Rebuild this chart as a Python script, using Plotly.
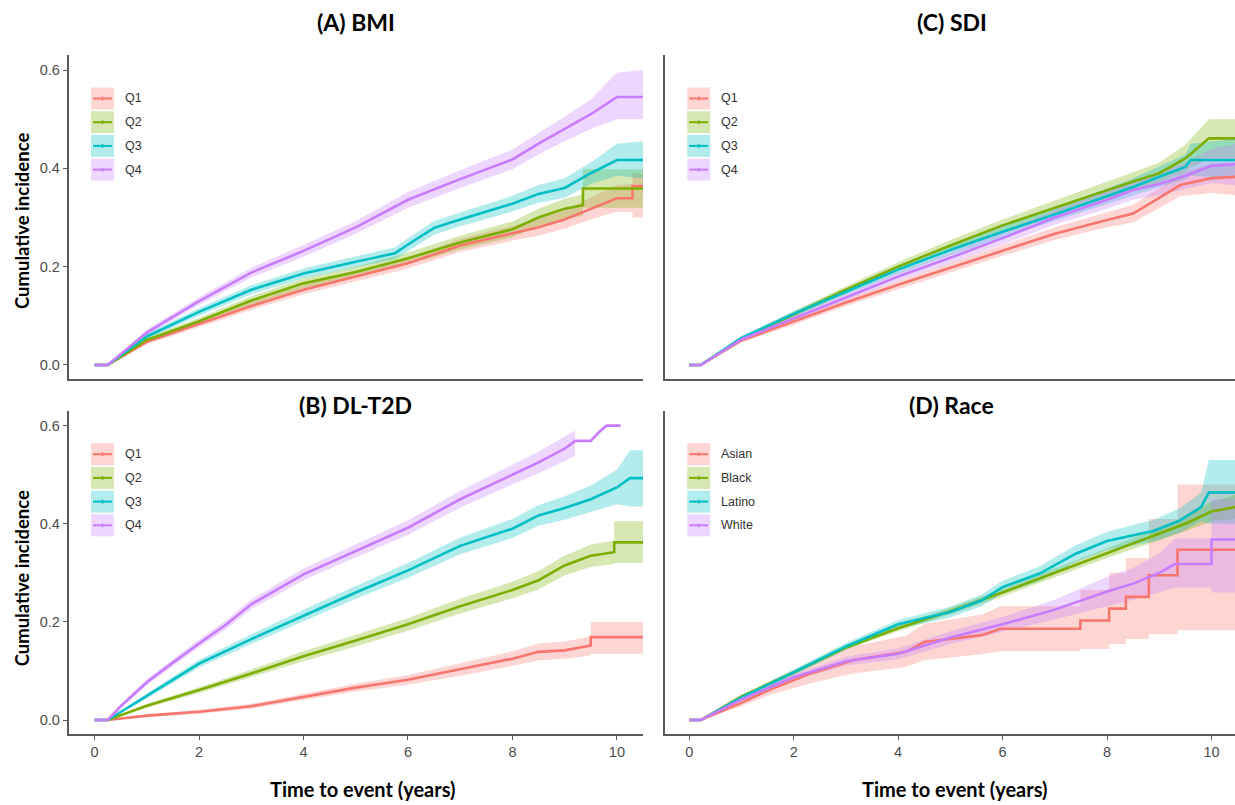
import plotly.graph_objects as go

# ---------------- data ----------------
QLABELS = ["Q1", "Q2", "Q3", "Q4"]
RACE_LABELS = ["Asian", "Black", "Latino", "White"]
COLORS = ["#F8766D", "#7CAE00", "#00BFC4", "#C77CFF"]
Y_TICKS = [0.0, 0.2, 0.4, 0.6]
Y_TICKTEXT = ["0.0", "0.2", "0.4", "0.6"]
X_TICKS = [0, 2, 4, 6, 8, 10]

# (A) BMI
A_Q1_t = [0, 0.25, 1, 2, 3, 4, 5, 6, 7, 8, 8.5, 9, 9.5, 10, 10.3, 10.3, 10.5]
A_Q1_est = [0, 0, 0.047, 0.084, 0.12, 0.153, 0.18, 0.207, 0.243, 0.268, 0.28, 0.296, 0.318, 0.339, 0.339, 0.364, 0.364]
A_Q1_lo = [0, 0, 0.042, 0.077, 0.112, 0.144, 0.17, 0.196, 0.23, 0.253, 0.263, 0.277, 0.296, 0.312, 0.31, 0.30, 0.30]
A_Q1_hi = [0, 0, 0.052, 0.091, 0.128, 0.162, 0.19, 0.218, 0.256, 0.283, 0.297, 0.315, 0.34, 0.366, 0.368, 0.39, 0.39]

A_Q2_t = [0, 0.25, 1, 2, 3, 4, 5, 6, 7, 8, 8.5, 9, 9.35, 9.35, 10.5]
A_Q2_est = [0, 0, 0.051, 0.089, 0.131, 0.166, 0.189, 0.217, 0.249, 0.276, 0.3, 0.318, 0.325, 0.359, 0.359]
A_Q2_lo = [0, 0, 0.046, 0.082, 0.122, 0.156, 0.178, 0.205, 0.235, 0.26, 0.282, 0.298, 0.303, 0.32, 0.32]
A_Q2_hi = [0, 0, 0.056, 0.096, 0.14, 0.176, 0.2, 0.229, 0.263, 0.292, 0.318, 0.338, 0.347, 0.398, 0.398]

A_Q3_t = [0, 0.25, 1, 2, 3, 4, 5, 5.75, 6, 6.5, 7, 8, 8.5, 9, 9.5, 10, 10.5]
A_Q3_est = [0, 0, 0.058, 0.108, 0.153, 0.186, 0.21, 0.227, 0.245, 0.279, 0.296, 0.328, 0.348, 0.36, 0.39, 0.417, 0.417]
A_Q3_lo = [0, 0, 0.053, 0.1, 0.144, 0.176, 0.199, 0.215, 0.232, 0.265, 0.282, 0.312, 0.33, 0.34, 0.368, 0.385, 0.38]
A_Q3_hi = [0, 0, 0.063, 0.116, 0.162, 0.196, 0.221, 0.239, 0.258, 0.293, 0.31, 0.344, 0.366, 0.38, 0.412, 0.45, 0.455]

A_Q4_t = [0, 0.25, 1, 2, 3, 4, 5, 6, 7, 8, 8.5, 9, 9.5, 10, 10.5]
A_Q4_est = [0, 0, 0.066, 0.13, 0.188, 0.232, 0.28, 0.336, 0.378, 0.418, 0.45, 0.48, 0.51, 0.545, 0.545]
A_Q4_lo = [0, 0, 0.06, 0.122, 0.178, 0.22, 0.267, 0.32, 0.36, 0.398, 0.428, 0.455, 0.48, 0.5, 0.5]
A_Q4_hi = [0, 0, 0.072, 0.138, 0.198, 0.244, 0.293, 0.352, 0.396, 0.438, 0.472, 0.505, 0.54, 0.595, 0.6]

# (B) DL-T2D
B_Q1_t = [0, 0.25, 1, 2, 3, 4, 5, 6, 7, 8, 8.5, 9, 9.4, 9.5, 9.5, 10.5]
B_Q1_est = [0, 0, 0.009, 0.017, 0.028, 0.047, 0.066, 0.082, 0.103, 0.125, 0.139, 0.142, 0.15, 0.152, 0.169, 0.169]
B_Q1_lo = [0, 0, 0.006, 0.013, 0.023, 0.041, 0.058, 0.072, 0.09, 0.11, 0.122, 0.125, 0.13, 0.132, 0.135, 0.135]
B_Q1_hi = [0, 0, 0.012, 0.021, 0.033, 0.053, 0.074, 0.092, 0.116, 0.14, 0.156, 0.16, 0.168, 0.17, 0.2, 0.2]

B_Q2_t = [0, 0.25, 1, 2, 3, 4, 5, 6, 7, 8, 8.5, 9, 9.5, 9.95, 9.95, 10.5]
B_Q2_est = [0, 0, 0.029, 0.061, 0.095, 0.13, 0.162, 0.195, 0.232, 0.265, 0.285, 0.315, 0.335, 0.342, 0.362, 0.362]
B_Q2_lo = [0, 0, 0.025, 0.055, 0.087, 0.12, 0.15, 0.182, 0.217, 0.248, 0.266, 0.295, 0.312, 0.318, 0.32, 0.32]
B_Q2_hi = [0, 0, 0.033, 0.067, 0.103, 0.14, 0.174, 0.208, 0.247, 0.282, 0.304, 0.335, 0.358, 0.366, 0.405, 0.405]

B_Q3_t = [0, 0.25, 1, 2, 3, 4, 5, 6, 7, 8, 8.5, 9, 9.5, 10, 10.25, 10.5]
B_Q3_est = [0, 0, 0.049, 0.115, 0.165, 0.213, 0.26, 0.305, 0.355, 0.39, 0.417, 0.432, 0.45, 0.474, 0.493, 0.493]
B_Q3_lo = [0, 0, 0.044, 0.107, 0.155, 0.201, 0.247, 0.29, 0.338, 0.371, 0.396, 0.408, 0.424, 0.44, 0.435, 0.435]
B_Q3_hi = [0, 0, 0.054, 0.123, 0.175, 0.225, 0.273, 0.32, 0.372, 0.41, 0.438, 0.456, 0.478, 0.51, 0.55, 0.55]

B_Q4_t = [0, 0.25, 0.5, 1, 1.5, 2, 2.5, 3, 4, 5, 6, 7, 8, 8.5, 9, 9.2, 9.5, 9.65, 9.8, 10.07]
B_Q4_est = [0, 0, 0.028, 0.077, 0.117, 0.156, 0.193, 0.236, 0.297, 0.345, 0.392, 0.45, 0.5, 0.525, 0.553, 0.569, 0.569, 0.586, 0.6, 0.6]
B_Q4_lo = [0, 0, 0.024, 0.071, 0.11, 0.148, 0.184, 0.226, 0.285, 0.332, 0.377, 0.433, 0.48, 0.503, 0.528, 0.538, None, None, None, None]
B_Q4_hi = [0, 0, 0.032, 0.083, 0.124, 0.164, 0.202, 0.246, 0.309, 0.358, 0.407, 0.467, 0.52, 0.547, 0.578, 0.59, None, None, None, None]

# (C) SDI
C_Q1_t = [0, 0.22, 1, 2, 3, 4, 5, 6, 7, 8, 8.5, 9, 9.4, 10, 10.5]
C_Q1_est = [0, 0, 0.05, 0.088, 0.127, 0.163, 0.198, 0.233, 0.267, 0.295, 0.308, 0.34, 0.366, 0.38, 0.383]
C_Q1_lo = [0, 0, 0.046, 0.082, 0.12, 0.155, 0.188, 0.222, 0.254, 0.28, 0.29, 0.32, 0.343, 0.35, 0.345]
C_Q1_hi = [0, 0, 0.054, 0.094, 0.134, 0.171, 0.208, 0.244, 0.28, 0.31, 0.326, 0.36, 0.39, 0.41, 0.41]

C_Q2_t = [0, 0.22, 1, 2, 3, 4, 5, 6, 7, 8, 8.5, 9, 9.5, 9.95, 10.5]
C_Q2_est = [0, 0, 0.053, 0.103, 0.153, 0.2, 0.243, 0.284, 0.32, 0.355, 0.373, 0.39, 0.42, 0.461, 0.461]
C_Q2_lo = [0, 0, 0.049, 0.097, 0.146, 0.191, 0.232, 0.272, 0.306, 0.338, 0.354, 0.37, 0.395, 0.42, 0.42]
C_Q2_hi = [0, 0, 0.057, 0.109, 0.16, 0.209, 0.254, 0.296, 0.334, 0.372, 0.392, 0.412, 0.448, 0.5, 0.5]

C_Q3_t = [0, 0.22, 1, 2, 3, 4, 5, 6, 7, 8, 8.5, 9, 9.5, 9.6, 10.5]
C_Q3_est = [0, 0, 0.055, 0.104, 0.149, 0.194, 0.234, 0.271, 0.306, 0.343, 0.362, 0.383, 0.403, 0.417, 0.417]
C_Q3_lo = [0, 0, 0.051, 0.098, 0.142, 0.185, 0.223, 0.259, 0.292, 0.327, 0.344, 0.362, 0.378, 0.385, 0.38]
C_Q3_hi = [0, 0, 0.059, 0.11, 0.156, 0.203, 0.245, 0.283, 0.32, 0.359, 0.38, 0.404, 0.428, 0.45, 0.46]

C_Q4_t = [0, 0.22, 1, 2, 3, 4, 5, 6, 7, 8, 8.5, 9, 9.5, 10, 10.5]
C_Q4_est = [0, 0, 0.052, 0.095, 0.138, 0.18, 0.218, 0.258, 0.3, 0.336, 0.356, 0.368, 0.385, 0.405, 0.409]
C_Q4_lo = [0, 0, 0.048, 0.089, 0.131, 0.171, 0.207, 0.245, 0.285, 0.318, 0.336, 0.345, 0.358, 0.37, 0.365]
C_Q4_hi = [0, 0, 0.056, 0.101, 0.145, 0.189, 0.229, 0.271, 0.315, 0.354, 0.376, 0.39, 0.412, 0.44, 0.45]

# (D) Race
D_AS_t = [0, 0.22, 1, 1.5, 2.33, 3.13, 4.15, 4.5, 5.6, 5.96, 7.49, 7.49, 8.04, 8.04, 8.36, 8.36, 8.8, 8.8, 9.35, 9.35, 10.5]
D_AS_est = [0, 0, 0.035, 0.06, 0.095, 0.122, 0.139, 0.159, 0.173, 0.186, 0.186, 0.203, 0.203, 0.227, 0.227, 0.251, 0.251, 0.295, 0.295, 0.347, 0.347]
D_AS_lo = [0, 0, 0.028, 0.05, 0.075, 0.095, 0.108, 0.122, 0.134, 0.14, 0.14, 0.145, 0.145, 0.155, 0.155, 0.165, 0.165, 0.175, 0.175, 0.183, 0.183]
D_AS_hi = [0, 0, 0.043, 0.076, 0.118, 0.15, 0.172, 0.196, 0.215, 0.232, 0.232, 0.265, 0.265, 0.3, 0.3, 0.33, 0.33, 0.41, 0.41, 0.48, 0.48]

D_BL_t = [0, 0.22, 1, 2, 3, 4, 5, 6, 7, 8, 9, 9.5, 10, 10.5]
D_BL_est = [0, 0, 0.048, 0.097, 0.148, 0.187, 0.222, 0.26, 0.3, 0.34, 0.38, 0.4, 0.425, 0.435]
D_BL_lo = [0, 0, 0.045, 0.093, 0.143, 0.181, 0.215, 0.252, 0.291, 0.33, 0.367, 0.385, 0.405, 0.41]
D_BL_hi = [0, 0, 0.051, 0.101, 0.153, 0.193, 0.229, 0.268, 0.309, 0.35, 0.393, 0.415, 0.445, 0.46]

D_LA_t = [0, 0.22, 1, 2, 3, 4, 5, 5.6, 6, 6.7, 7.4, 8, 8.9, 9.4, 9.8, 9.95, 10.5]
D_LA_est = [0, 0, 0.046, 0.097, 0.15, 0.195, 0.22, 0.244, 0.271, 0.298, 0.339, 0.365, 0.386, 0.407, 0.434, 0.464, 0.464]
D_LA_lo = [0, 0, 0.042, 0.091, 0.143, 0.186, 0.209, 0.232, 0.258, 0.283, 0.322, 0.346, 0.364, 0.382, 0.405, 0.4, 0.4]
D_LA_hi = [0, 0, 0.05, 0.103, 0.157, 0.204, 0.231, 0.256, 0.284, 0.313, 0.356, 0.384, 0.408, 0.432, 0.463, 0.53, 0.53]

D_WH_t = [0, 0.22, 1, 2, 3, 4, 5, 6, 7, 8, 8.5, 9, 9.3, 10.0, 10.0, 10.5]
D_WH_est = [0, 0, 0.042, 0.087, 0.12, 0.135, 0.168, 0.195, 0.225, 0.262, 0.278, 0.3, 0.318, 0.318, 0.368, 0.368]
D_WH_lo = [0, 0, 0.038, 0.081, 0.111, 0.124, 0.155, 0.18, 0.205, 0.232, 0.245, 0.26, 0.27, 0.27, 0.26, 0.26]
D_WH_hi = [0, 0, 0.046, 0.093, 0.129, 0.146, 0.181, 0.21, 0.245, 0.292, 0.31, 0.34, 0.37, 0.37, 0.45, 0.45]

PANELS = [
    ("x", "y", "(A) BMI", QLABELS,
     [(A_Q1_t, A_Q1_est, A_Q1_lo, A_Q1_hi), (A_Q2_t, A_Q2_est, A_Q2_lo, A_Q2_hi),
      (A_Q3_t, A_Q3_est, A_Q3_lo, A_Q3_hi), (A_Q4_t, A_Q4_est, A_Q4_lo, A_Q4_hi)]),
    ("x2", "y2", "(C) SDI", QLABELS,
     [(C_Q1_t, C_Q1_est, C_Q1_lo, C_Q1_hi), (C_Q2_t, C_Q2_est, C_Q2_lo, C_Q2_hi),
      (C_Q3_t, C_Q3_est, C_Q3_lo, C_Q3_hi), (C_Q4_t, C_Q4_est, C_Q4_lo, C_Q4_hi)]),
    ("x3", "y3", "(B) DL-T2D", QLABELS,
     [(B_Q1_t, B_Q1_est, B_Q1_lo, B_Q1_hi), (B_Q2_t, B_Q2_est, B_Q2_lo, B_Q2_hi),
      (B_Q3_t, B_Q3_est, B_Q3_lo, B_Q3_hi), (B_Q4_t, B_Q4_est, B_Q4_lo, B_Q4_hi)]),
    ("x4", "y4", "(D) Race", RACE_LABELS,
     [(D_AS_t, D_AS_est, D_AS_lo, D_AS_hi), (D_BL_t, D_BL_est, D_BL_lo, D_BL_hi),
      (D_LA_t, D_LA_est, D_LA_lo, D_LA_hi), (D_WH_t, D_WH_est, D_WH_lo, D_WH_hi)]),
]

# ---------------- layout geometry (pixels) ----------------
W, H = 1235, 805


def px(x):
    return x / W


def py(y):
    return 1 - y / H


def rgba(hex_color, a):
    h = hex_color.lstrip("#")
    r, g, b = int(h[0:2], 16), int(h[2:4], 16), int(h[4:6], 16)
    return f"rgba({r},{g},{b},{a})"


LEFT = (68.5, 643.0)
RIGHT = (664.7, 1235.0)
TOP = (55.0, 379.0)
BOT = (410.7, 734.0)
PANEL_BOX = {"x": (LEFT, TOP), "x2": (RIGHT, TOP), "x3": (LEFT, BOT), "x4": (RIGHT, BOT)}

AXC = "#5a5a5a"
TICKFONT = dict(family="Liberation Sans, Arial", size=14.5, color="#4d4d4d")

fig = go.Figure()

# bands first, then lines
for xa, ya, title, labels, series in PANELS:
    for (t, est, lo, hi), col in zip(series, COLORS):
        bt = [ti for ti, l in zip(t, lo) if l is not None]
        blo = [l for l in lo if l is not None]
        bhi = [h for h in hi if h is not None]
        fig.add_trace(go.Scatter(
            x=bt + bt[::-1], y=bhi + blo[::-1], xaxis=xa, yaxis=ya,
            fill="toself", fillcolor=rgba(col, 0.3), line=dict(width=0),
            mode="lines", hoverinfo="skip", showlegend=False))
for xa, ya, title, labels, series in PANELS:
    for (t, est, lo, hi), col, lab in zip(series, COLORS, labels):
        fig.add_trace(go.Scatter(
            x=t, y=est, xaxis=xa, yaxis=ya, mode="lines", name=lab,
            line=dict(color=col, width=2.6), showlegend=False))

shapes = []
annotations = []

# manual ggplot-style legends inside each panel
for xa, ya, title, labels, series in PANELS:
    (xl, xr), (yt, yb) = PANEL_BOX[xa]
    for i, (lab, col) in enumerate(zip(labels, COLORS)):
        cy = yt + 43.5 + 23.7 * i
        x0 = xl + 22.5
        x1 = x0 + 23
        shapes.append(dict(type="rect", xref="paper", yref="paper",
                           x0=px(x0), x1=px(x1), y0=py(cy + 11), y1=py(cy - 11),
                           fillcolor=rgba(col, 0.3), line=dict(width=0), layer="above"))
        shapes.append(dict(type="line", xref="paper", yref="paper",
                           x0=px(x0 + 2), x1=px(x1 - 2), y0=py(cy), y1=py(cy),
                           line=dict(color=col, width=2), layer="above"))
        shapes.append(dict(type="line", xref="paper", yref="paper",
                           x0=px((x0 + x1) / 2), x1=px((x0 + x1) / 2), y0=py(cy - 2), y1=py(cy + 2),
                           line=dict(color=col, width=1.5), layer="above"))
        annotations.append(dict(text=lab, xref="paper", yref="paper", x=px(x1 + 9), y=py(cy),
                                xanchor="left", yanchor="middle", showarrow=False,
                                font=dict(family="Liberation Sans, Arial", size=12.5, color="#333333")))
    # panel title
    tcy = 22 if yt < 100 else 405
    tcx = (xl + xr) / 2 if xa in ("x", "x3") else 951.5
    annotations.append(dict(text="<b>%s</b>" % title, xref="paper", yref="paper",
                            x=px(tcx), y=py(tcy),
                            xanchor="center", yanchor="middle", showarrow=False,
                            font=dict(family="Lato, Open Sans", size=23, color="#000000")))

# axis titles
for yc in ((TOP[0] + TOP[1]) / 2 + 4, (BOT[0] + BOT[1]) / 2 + 6):
    annotations.append(dict(text="<b>Cumulative incidence</b>", xref="paper", yref="paper",
                            x=px(22), y=py(yc), xanchor="center", yanchor="middle",
                            textangle=-90, showarrow=False,
                            font=dict(family="Lato, Open Sans", size=18.5, color="#000000")))
for xc in (362.5, 955.0):
    annotations.append(dict(text="<b>Time to event (years)</b>", xref="paper", yref="paper",
                            x=px(xc), y=py(789), xanchor="center", yanchor="middle",
                            showarrow=False,
                            font=dict(family="Lato, Open Sans", size=20, color="#000000")))

yrange = [-0.0285, 0.6305]
base = dict(showgrid=False, zeroline=False, showline=True, linecolor=AXC, linewidth=1.5)


def xax(dom, rng, anchor, labels):
    d = dict(base, domain=[px(dom[0]), px(dom[1])], range=rng, anchor=anchor,
             tickvals=X_TICKS, tickfont=TICKFONT)
    if labels:
        d.update(ticks="outside", ticklen=4, tickwidth=1.2, tickcolor=AXC, showticklabels=True)
    else:
        d.update(ticks="", showticklabels=False)
    return d


def yax(dom, anchor, labels):
    d = dict(base, domain=[py(dom[1]), py(dom[0])], range=yrange, anchor=anchor,
             tickvals=Y_TICKS, ticktext=Y_TICKTEXT, tickfont=TICKFONT)
    if labels:
        d.update(ticks="outside", ticklen=4, tickwidth=1.2, tickcolor=AXC, showticklabels=True)
    else:
        d.update(ticks="", showticklabels=False)
    return d


fig.update_layout(
    width=W, height=H,
    margin=dict(l=0, r=0, t=0, b=0),
    paper_bgcolor="white", plot_bgcolor="white",
    showlegend=False,
    xaxis=xax(LEFT, [-0.5, 10.5], "y", False),
    yaxis=yax(TOP, "x", True),
    xaxis2=xax(RIGHT, [-0.47, 10.45], "y2", False),
    yaxis2=yax(TOP, "x2", False),
    xaxis3=xax(LEFT, [-0.5, 10.5], "y3", True),
    yaxis3=yax(BOT, "x3", True),
    xaxis4=xax(RIGHT, [-0.47, 10.45], "y4", True),
    yaxis4=yax(BOT, "x4", False),
    shapes=shapes,
    annotations=annotations,
)

# remove the default page margin so the figure sits at the window's top-left corner
fig.write_html("out.html", config={"displayModeBar": False},
               post_script="document.body.style.margin='0';document.body.style.overflow='hidden';")
